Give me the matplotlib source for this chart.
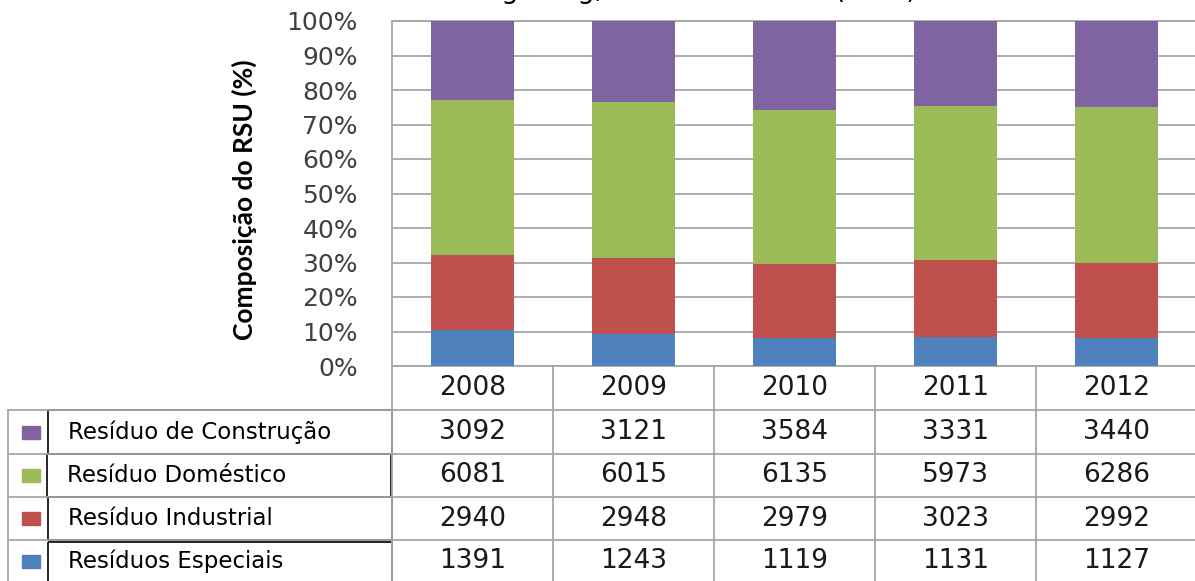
import matplotlib
matplotlib.use("Agg")
import matplotlib.pyplot as plt
from matplotlib.patches import Rectangle
import numpy as np

# ---------------- data ----------------
years = ["2008", "2009", "2010", "2011", "2012"]
series_names = ["Resíduo de Construção", "Resíduo Doméstico",
                "Resíduo Industrial", "Resíduos Especiais"]
construcao = [3092, 3121, 3584, 3331, 3440]
domestico = [6081, 6015, 6135, 5973, 6286]
industrial = [2940, 2948, 2979, 3023, 2992]
especiais = [1391, 1243, 1119, 1131, 1127]
colors = ["#8064A2", "#9BBB59", "#C0504D", "#4F81BD"]
ytick_vals = [0, 10, 20, 30, 40, 50, 60, 70, 80, 90, 100]
ylabel = "Composição do RSU (%)"
title = "Resíduos Sólidos Urbanos em Hong Kong, de 2008 a 2012 (t/dia)"

W, H = 1195, 581
fig = plt.figure(figsize=(W / 100, H / 100), dpi=100)
fig.patch.set_facecolor("white")

def fx(px):
    return px / W

def fy(py):
    return 1 - py / H

grid_c = "#A6A6A6"
txt_c = "#1A1A1A"
num_font = "DejaVu Sans"

# ---------------- main stacked 100% bars ----------------
L, R, T, B = 392, 1197, 21, 366
ax = fig.add_axes([fx(L), fy(B), (R - L) / W, (B - T) / H])
series_vals = [construcao, domestico, industrial, especiais]
totals = np.sum(np.array(series_vals, dtype=float), axis=0)
x = np.arange(len(years))
stack_order = [3, 2, 1, 0]  # bottom to top
bottom = np.zeros(len(years))
for idx in stack_order:
    pct = np.array(series_vals[idx], dtype=float) / totals * 100
    ax.bar(x, pct, width=0.51, bottom=bottom, color=colors[idx],
           edgecolor="none", zorder=3)
    bottom += pct

ax.set_xlim(-0.5, len(years) - 0.5)
ax.set_ylim(0, 100)
ax.set_yticks(ytick_vals)
ax.set_yticklabels([f"{v}%" for v in ytick_vals], fontsize=18,
                   family=num_font, color="#404040")
ax.tick_params(axis="y", length=0, pad=24.5)
ax.set_xticks([])
ax.yaxis.grid(True, color=grid_c, linewidth=1.3, zorder=0)
for s in ["left", "top", "bottom"]:
    ax.spines[s].set_color(grid_c)
    ax.spines[s].set_linewidth(1.3)
ax.spines["right"].set_visible(False)
ax.set_ylabel(ylabel, fontsize=19, family="Lato", fontweight="bold",
              color="black")
ax.yaxis.set_label_coords((257 - L) / (R - L), (B - 200) / (B - T))

# ---------------- data table ----------------
tab = fig.add_axes([0, 0, 1, 1], zorder=5)
tab.set_xlim(0, W)
tab.set_ylim(H, 0)
tab.axis("off")
tab.patch.set_alpha(0)

# column centers from the main axis scale
fig.canvas.draw()
col_px = [ax.transData.transform((xi, 0))[0] for xi in x]
col_w = col_px[1] - col_px[0]
bounds = [col_px[0] - col_w / 2 + k * col_w for k in range(len(years) + 1)]

row_lines = [410, 454, 497, 540]
row_centers = [432, 475.5, 518.5, 561]
header_center = 388

# grid lines
for yl in row_lines:
    tab.plot([8, W], [yl, yl], color=grid_c, lw=1.3)
for bx in bounds:
    tab.plot([bx, bx], [B, H], color=grid_c, lw=1.3)
tab.plot([8, 8], [row_lines[0], H], color=grid_c, lw=1.3)

# black label boxes
box_specs = [(48, 410, 392, 454), (47, 454, 391, 497),
             (48, 497, 392, 540), (48, 542, 392, 585)]
for (x0, y0, x1, y1) in box_specs:
    tab.add_patch(Rectangle((x0, y0), x1 - x0, y1 - y0, fill=False,
                            edgecolor="black", lw=1.2))

# year header
for cx, yr in zip(col_px, years):
    tab.text(cx, header_center, yr, ha="center", va="center",
             fontsize=19, family=num_font, color=txt_c)

# rows
for r, (name, vals, col) in enumerate(zip(series_names, series_vals, colors)):
    cy = row_centers[r]
    tab.add_patch(Rectangle((22, cy - 6.5), 18, 13, color=col))
    tab.text(68 if r != 1 else 67, cy, name, ha="left", va="center",
             fontsize=16.5, family="DejaVu Sans", color="black")
    for cx, v in zip(col_px, vals):
        tab.text(cx, cy, str(v), ha="center", va="center",
                 fontsize=19, family=num_font, color=txt_c)

# ---------------- clipped title at the very top ----------------
renderer = fig.canvas.get_renderer()
prefix = title.split("Hong")[0] + "Hon"
tmp = fig.text(0, 0, prefix, fontsize=19.5, family="DejaVu Sans")
w_prefix = tmp.get_window_extent(renderer).width
tmp.remove()
tmp = fig.text(0, 0, "g", fontsize=19.5, family="DejaVu Sans")
w_g = tmp.get_window_extent(renderer).width
tmp.remove()
x_start = 510 - w_prefix - w_g / 2
fig.text(fx(x_start), fy(-2), title, ha="left", va="baseline",
         fontsize=19.5, family="DejaVu Sans", color="black")

fig.savefig("out.png", dpi=100, facecolor="white")
